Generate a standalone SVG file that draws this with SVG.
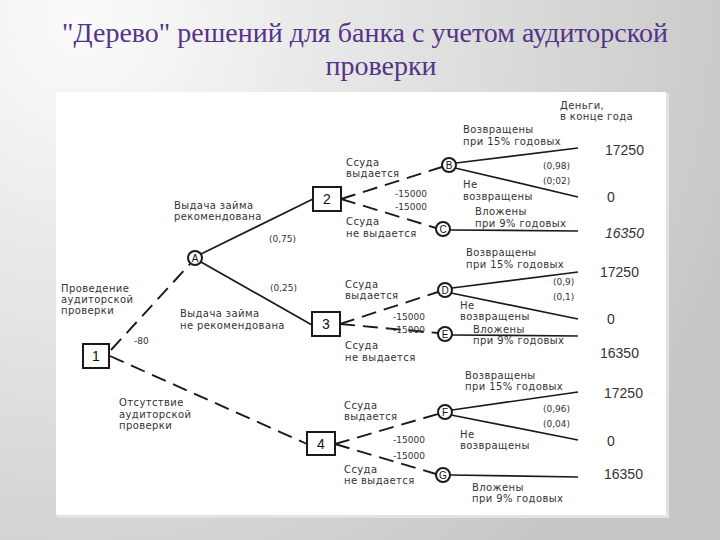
<svg xmlns="http://www.w3.org/2000/svg" width="720" height="540" viewBox="0 0 720 540">
<defs>
<radialGradient id="bg" gradientUnits="userSpaceOnUse" cx="80" cy="20" r="700">
<stop offset="0" stop-color="#fbfbfc"/>
<stop offset="1" stop-color="#c6c6c6"/>
</radialGradient>
<style>
.title{font-family:"Liberation Serif","Times New Roman",serif;font-size:28px;fill:#553388;text-anchor:middle}
.lb{font-family:"DejaVu Sans","Liberation Sans",sans-serif;font-size:10px;letter-spacing:0.4px;fill:#333}
.pr{font-family:"DejaVu Sans","Liberation Sans",sans-serif;font-size:9px;fill:#333}
.val{font-family:"Liberation Sans",Arial,sans-serif;font-size:14px;fill:#333}
.nid{font-family:"Liberation Sans",Arial,sans-serif;font-size:14px;fill:#111;text-anchor:middle}
.cid{font-family:"Liberation Sans",Arial,sans-serif;font-size:10px;fill:#111;text-anchor:middle}
.box{fill:#fff;stroke:#1a1a1a;stroke-width:2}
.circ{fill:#fff;stroke:#1a1a1a;stroke-width:2}
.solid{fill:none;stroke:#1a1a1a;stroke-width:1.7}
.dash{fill:none;stroke:#1a1a1a;stroke-width:1.9;stroke-dasharray:15 8}
</style>
</defs>
<rect x="0" y="0" width="720" height="540" fill="url(#bg)"/>
<text class="title" x="365" y="42">"Дерево" решений для банка с учетом аудиторской</text>
<text class="title" x="381" y="75">проверки</text>
<rect x="57" y="93" width="612" height="425" fill="#e2e2e2"/>
<rect x="56" y="92" width="610" height="423" fill="#ffffff"/>

<g id="connectors">
<path class="dash" d="M111,350 L190,264"/>
<path class="dash" d="M110,356 L307,444"/>
<path class="solid" d="M201,254 L313,199"/>
<path class="solid" d="M201,262 L312,325"/>
<path class="dash" d="M341,199 L442,167"/>
<path class="dash" d="M341,199 L436,228"/>
<path class="dash" d="M340,324 L438,292"/>
<path class="dash" d="M340,324 L438,333"/>
<path class="dash" d="M335,444 L438,414"/>
<path class="dash" d="M335,444 L436,474"/>
<path class="solid" d="M456,163 L578,148"/>
<path class="solid" d="M455,168 L578,197"/>
<path class="solid" d="M450,230 L578,231"/>
<path class="solid" d="M452,288 L578,272"/>
<path class="solid" d="M451,293 L578,319"/>
<path class="solid" d="M452,335 L578,336"/>
<path class="solid" d="M452,410 L578,392"/>
<path class="solid" d="M451,415 L578,440"/>
<path class="solid" d="M450,475 L578,477"/>
</g>

<g id="n1"><rect class="box" x="83" y="344" width="26" height="24"/><text class="nid" x="96" y="361">1</text></g>
<g id="n2"><rect class="box" x="313" y="187" width="28" height="24"/><text class="nid" x="327" y="204">2</text></g>
<g id="n3"><rect class="box" x="312" y="312" width="28" height="24"/><text class="nid" x="326" y="329">3</text></g>
<g id="n4"><rect class="box" x="307" y="432" width="28" height="23"/><text class="nid" x="321" y="449">4</text></g>
<g id="nA"><circle class="circ" cx="195" cy="258" r="7"/><text class="cid" x="195" y="262">A</text></g>
<g id="nB"><circle class="circ" cx="449" cy="165" r="7"/><text class="cid" x="449" y="169">B</text></g>
<g id="nC"><circle class="circ" cx="443" cy="229" r="7"/><text class="cid" x="443" y="233">C</text></g>
<g id="nD"><circle class="circ" cx="445" cy="290" r="7"/><text class="cid" x="445" y="294">D</text></g>
<g id="nE"><circle class="circ" cx="445" cy="334" r="7"/><text class="cid" x="445" y="338">E</text></g>
<g id="nF"><circle class="circ" cx="445" cy="412" r="7"/><text class="cid" x="445" y="416">F</text></g>
<g id="nG"><circle class="circ" cx="443" cy="475" r="7"/><text class="cid" x="443" y="479">G</text></g>

<g id="labels">
<text class="lb" x="61" y="292">Проведение</text>
<text class="lb" x="61" y="303">аудиторской</text>
<text class="lb" x="61" y="314">проверки</text>
<text class="pr" x="134" y="344">-80</text>
<text class="lb" x="174" y="209">Выдача займа</text>
<text class="lb" x="174" y="220">рекомендована</text>
<text class="pr" x="269" y="242">(0,75)</text>
<text class="pr" x="270" y="291">(0,25)</text>
<text class="lb" x="180" y="317">Выдача займа</text>
<text class="lb" x="180" y="329">не рекомендована</text>
<text class="lb" x="119" y="406">Отсутствие</text>
<text class="lb" x="119" y="418">аудиторской</text>
<text class="lb" x="119" y="429">проверки</text>

<text class="lb" x="560" y="109">Деньги,</text>
<text class="lb" x="560" y="120">в конце года</text>

<text class="lb" x="346" y="166">Ссуда</text>
<text class="lb" x="346" y="177">выдается</text>
<text class="pr" x="395" y="197">-15000</text>
<text class="pr" x="395" y="210">-15000</text>
<text class="lb" x="346" y="225">Ссуда</text>
<text class="lb" x="346" y="237">не выдается</text>
<text class="lb" x="463" y="133">Возвращены</text>
<text class="lb" x="463" y="145">при 15% годовых</text>
<text class="pr" x="543" y="169">(0,98)</text>
<text class="pr" x="543" y="184">(0;02)</text>
<text class="lb" x="463" y="188">Не</text>
<text class="lb" x="463" y="200">возвращены</text>
<text class="lb" x="475" y="215">Вложены</text>
<text class="lb" x="475" y="227">при 9% годовых</text>
<text class="val" x="605" y="155">17250</text>
<text class="val" x="607" y="202">0</text>
<text class="val" x="605" y="238" font-style="italic">16350</text>

<text class="lb" x="345" y="288">Ссуда</text>
<text class="lb" x="345" y="299">выдается</text>
<text class="pr" x="393" y="320">-15000</text>
<text class="pr" x="393" y="333">-15000</text>
<text class="lb" x="345" y="349">Ссуда</text>
<text class="lb" x="345" y="361">не выдается</text>
<text class="lb" x="466" y="256">Возвращены</text>
<text class="lb" x="466" y="268">при 15% годовых</text>
<text class="pr" x="553" y="285">(0,9)</text>
<text class="pr" x="553" y="300">(0,1)</text>
<text class="lb" x="460" y="309">Не</text>
<text class="lb" x="460" y="320">возвращены</text>
<text class="lb" x="473" y="333">Вложены</text>
<text class="lb" x="473" y="344">при 9% годовых</text>
<text class="val" x="600" y="277">17250</text>
<text class="val" x="607" y="324">0</text>
<text class="val" x="600" y="358">16350</text>

<text class="lb" x="344" y="409">Ссуда</text>
<text class="lb" x="344" y="420">выдается</text>
<text class="pr" x="393" y="443">-15000</text>
<text class="pr" x="393" y="459">-15000</text>
<text class="lb" x="344" y="473">Ссуда</text>
<text class="lb" x="344" y="484">не выдается</text>
<text class="lb" x="465" y="379">Возвращены</text>
<text class="lb" x="465" y="390">при 15% годовых</text>
<text class="pr" x="543" y="412">(0,96)</text>
<text class="pr" x="543" y="427">(0,04)</text>
<text class="lb" x="460" y="438">Не</text>
<text class="lb" x="460" y="449">возвращены</text>
<text class="lb" x="472" y="491">Вложены</text>
<text class="lb" x="472" y="502">при 9% годовых</text>
<text class="val" x="604" y="398">17250</text>
<text class="val" x="607" y="446">0</text>
<text class="val" x="604" y="479">16350</text>
</g>
</svg>
